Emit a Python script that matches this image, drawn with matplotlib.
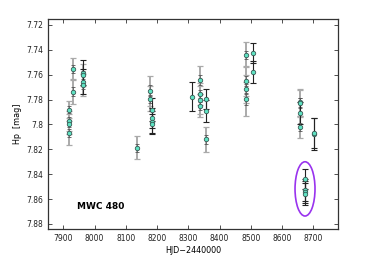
import matplotlib
matplotlib.use("Agg")
import matplotlib.pyplot as plt
from matplotlib.patches import Ellipse

# Data
hjd = [7918, 7918, 7918, 7918,
       7930, 7930,
       7963, 7963, 7963, 7963,
       8135,
       8178, 8178,
       8183, 8183, 8183, 8183,
       8311,
       8337, 8337, 8337, 8337,
       8357, 8357, 8357,
       8484, 8484, 8484, 8484,
       8508, 8508,
       8657, 8657, 8657, 8657,
       8704, 8704,
       8674, 8674, 8674, 8674]
hp = [7.788, 7.797, 7.7995, 7.807,
      7.7556, 7.7736,
      7.7586, 7.7602, 7.7658, 7.7682,
      7.8186,
      7.7728, 7.7795,
      7.788, 7.795, 7.798, 7.800,
      7.7776,
      7.7642, 7.7755, 7.7803, 7.7849,
      7.7795, 7.789, 7.8119,
      7.7441, 7.765, 7.7715, 7.7795,
      7.7428, 7.758,
      7.7822, 7.783, 7.791, 7.8023,
      7.8075, 7.8071,
      7.8438, 7.8527, 7.8545, 7.8561]
err = [0.007, 0.008, 0.008, 0.0095,
       0.009, 0.010,
       0.010, 0.009, 0.010, 0.009,
       0.009,
       0.012, 0.010,
       0.009, 0.008, 0.009, 0.008,
       0.012,
       0.011, 0.009, 0.011, 0.009,
       0.008, 0.009, 0.010,
       0.010, 0.012, 0.011, 0.014,
       0.008, 0.009,
       0.011, 0.011, 0.009, 0.009,
       0.013, 0.012,
       0.008, 0.009, 0.009, 0.009]
dark = [False, False, False, False,
        False, False,
        True, False, True, False,
        False,
        False, False,
        True, True, True, True,
        True,
        False, False, False, False,
        True, True, False,
        False, False, False, False,
        True, True,
        False, False, True, False,
        True, True,
        True, True, True, True]

star = "MWC 480"
xticks = [7900, 8000, 8100, 8200, 8300, 8400, 8500, 8600, 8700]
yticks = [7.72, 7.74, 7.76, 7.78, 7.80, 7.82, 7.84, 7.86, 7.88]
ytick_labels = ["7.72", "7.74", "7.76", "7.78", "7.8", "7.82", "7.84", "7.86", "7.88"]

fig = plt.figure(figsize=(3.74, 2.59), dpi=100)
ax = fig.add_axes([0.128, 0.116, 0.776, 0.809])

for x, y, e, d in zip(hjd, hp, err, dark):
    if d:
        ax.errorbar(x, y, yerr=e, fmt='none', ecolor='#222222', elinewidth=0.8,
                    capsize=2, capthick=0.8, zorder=2)
    else:
        ax.errorbar(x, y, yerr=e, fmt='none', ecolor='#aaaaaa', elinewidth=1.4,
                    capsize=2, capthick=0.9, zorder=1)
        ax.errorbar(x, y, yerr=e * 0.35, fmt='none', ecolor='#555555', elinewidth=0.5,
                    capsize=1.5, capthick=0.6, zorder=2)

ax.plot(hjd, hp, 'o', ms=3.2, mfc='#5fe3c3', mec='#3a5a55', mew=0.6, zorder=3)

ell = Ellipse((8674, 7.8518), width=64, height=0.0436, fill=False,
              edgecolor='#9933ee', linewidth=1.2, zorder=4)
ax.add_patch(ell)

ax.text(7943, 7.866, star, fontsize=6.5, fontweight='bold', ha='left', va='center')

ax.set_xlim(7850, 8780)
ax.set_ylim(7.884, 7.7156)
ax.set_xticks(xticks)
ax.set_yticks(yticks)
ax.set_yticklabels(ytick_labels)
ax.tick_params(direction='in', labelsize=5.5, top=True, right=True, length=3,
               width=0.6, colors='#333333', labelcolor='#222222')
for s in ax.spines.values():
    s.set_linewidth(0.9)
    s.set_color('#333333')
ax.set_xlabel("HJD\u22122440000", fontsize=5.8, labelpad=2)
ax.set_ylabel("Hp  [mag]", fontsize=5.8, labelpad=3)

fig.savefig("out.png", dpi=100)
